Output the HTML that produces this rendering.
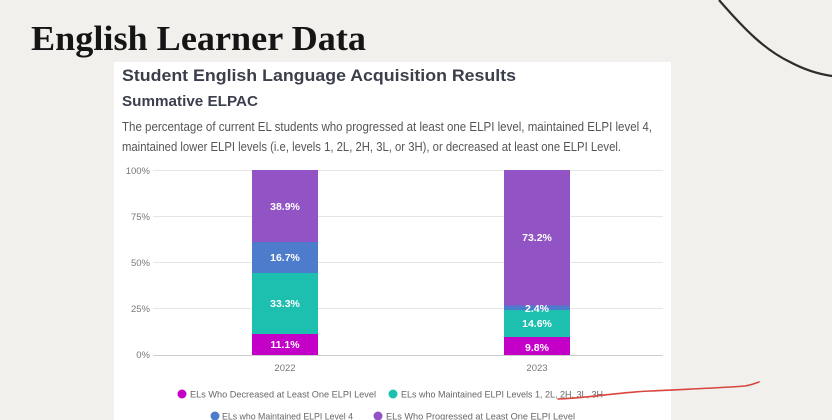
<!DOCTYPE html>
<html><head><meta charset="utf-8"><style>
html,body{margin:0;padding:0;background:#f2f0ed;}
svg{display:block;}
</style></head><body>
<svg width="832" height="420" viewBox="0 0 832 420" xmlns="http://www.w3.org/2000/svg">
<rect x="0" y="0" width="832" height="420" fill="#f2f0ed"/>
<path d="M719,0 C745,30 765,50 790,62 C805,70 818,74 832,76" fill="none" stroke="#2e2c2b" stroke-width="2.2"/>
<text x="31" y="50" font-family="Liberation Serif, serif" font-size="35" font-weight="bold" fill="#151515" textLength="335" lengthAdjust="spacingAndGlyphs">English Learner Data</text>
<rect x="114" y="62" width="557" height="358" fill="#ffffff"/>
<text x="122" y="81" font-family="Liberation Sans, sans-serif" font-size="17" font-weight="bold" fill="#3b3f4c" textLength="394" lengthAdjust="spacingAndGlyphs">Student English Language Acquisition Results</text>
<text x="122" y="106" font-family="Liberation Sans, sans-serif" font-size="14.5" font-weight="bold" fill="#3b3f4c" textLength="136" lengthAdjust="spacingAndGlyphs">Summative ELPAC</text>
<text x="122" y="131" font-family="Liberation Sans, sans-serif" font-size="12.5" fill="#555" textLength="530" lengthAdjust="spacingAndGlyphs">The percentage of current EL students who progressed at least one ELPI level, maintained ELPI level 4,</text>
<text x="122" y="151" font-family="Liberation Sans, sans-serif" font-size="12.5" fill="#555" textLength="499" lengthAdjust="spacingAndGlyphs">maintained lower ELPI levels (i.e, levels 1, 2L, 2H, 3L, or 3H), or decreased at least one ELPI Level.</text>
<g stroke="#e6e6e6" stroke-width="1">
<line x1="153" y1="170.5" x2="663" y2="170.5"/>
<line x1="153" y1="216.5" x2="663" y2="216.5"/>
<line x1="153" y1="262.5" x2="663" y2="262.5"/>
<line x1="153" y1="308.5" x2="663" y2="308.5"/>
</g>
<line x1="153" y1="355.5" x2="663" y2="355.5" stroke="#ccc" stroke-width="1"/>
<g font-family="Liberation Sans, sans-serif" font-size="9.5" fill="#777" text-anchor="end">
<text x="150" y="174">100%</text>
<text x="150" y="220">75%</text>
<text x="150" y="266">50%</text>
<text x="150" y="312">25%</text>
<text x="150" y="358">0%</text>
</g>
<rect x="252" y="170" width="66" height="72" fill="#9254c4"/>
<rect x="252" y="242" width="66" height="31" fill="#4d7ccc"/>
<rect x="252" y="273" width="66" height="61" fill="#1dbfae"/>
<rect x="252" y="334" width="66" height="21" fill="#c400c8"/>
<rect x="504" y="170" width="66" height="135.5" fill="#9254c4"/>
<rect x="504" y="305.5" width="66" height="4.5" fill="#4d7ccc"/>
<rect x="504" y="310" width="66" height="27" fill="#1dbfae"/>
<rect x="504" y="337" width="66" height="18" fill="#c400c8"/>
<g font-family="Liberation Sans, sans-serif" font-size="10.5" font-weight="bold" fill="#fff" text-anchor="middle">
<text x="285" y="210">38.9%</text>
<text x="285" y="261">16.7%</text>
<text x="285" y="307">33.3%</text>
<text x="285" y="348">11.1%</text>
<text x="537" y="241">73.2%</text>
<text x="537" y="312">2.4%</text>
<text x="537" y="327">14.6%</text>
<text x="537" y="351">9.8%</text>
</g>
<g font-family="Liberation Sans, sans-serif" font-size="9.5" fill="#777" text-anchor="middle">
<text x="285" y="371">2022</text>
<text x="537" y="371">2023</text>
</g>
<g font-family="Liberation Sans, sans-serif" font-size="9.5" fill="#666">
<circle cx="182" cy="394" r="4.5" fill="#c400c8"/>
<text x="190" y="397.5" textLength="186" lengthAdjust="spacingAndGlyphs">ELs Who Decreased at Least One ELPI Level</text>
<circle cx="393" cy="394" r="4.5" fill="#1dbfae"/>
<text x="401" y="397.5" textLength="202" lengthAdjust="spacingAndGlyphs">ELs who Maintained ELPI Levels 1, 2L, 2H, 3L, 3H</text>
<circle cx="215" cy="416" r="4.5" fill="#4d7ccc"/>
<text x="222" y="419.5" textLength="131" lengthAdjust="spacingAndGlyphs">ELs who Maintained ELPI Level 4</text>
<circle cx="378" cy="416" r="4.5" fill="#9254c4"/>
<text x="386" y="419.5" textLength="189" lengthAdjust="spacingAndGlyphs">ELs Who Progressed at Least One ELPI Level</text>
</g>
<path d="M558,399 C590,398 610,393 650,391 C690,389 720,388 745,386 C752,385 756,383 759,382" fill="none" stroke="#d9453f" stroke-width="1.6" stroke-linecap="round"/>
</svg>
</body></html>
